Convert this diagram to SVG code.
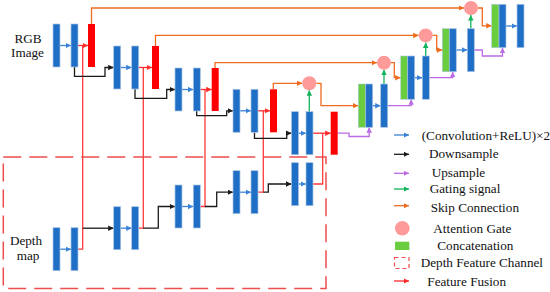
<svg xmlns="http://www.w3.org/2000/svg" width="550" height="292" viewBox="0 0 550 292">
<defs>
<style>
.b{fill:#1f6fc6;stroke:#a9c3e2;stroke-width:0.7}
.r{fill:#ff0000}
.g{fill:#6acd3f;stroke:#a9c3e2;stroke-width:0.5}
.ag{fill:#ff9a9a}
.c{fill:none;stroke-width:1.3}
.cb{stroke:#3a82d6;marker-end:url(#mb)}
.ck{stroke:#1a1a1a;marker-end:url(#mk)}
.cr{stroke:#ff2a2a;marker-end:url(#mr)}
.cf{stroke:#ff3b3b}
.co{stroke:#ef6c1f}
.coa{stroke:#ef6c1f;marker-end:url(#mo)}
.cg{stroke:#10b35a;marker-end:url(#mg)}
.cp{stroke:#bb6be3}
.cpa{stroke:#bb6be3;marker-end:url(#mp)}
text{font-family:'Liberation Serif','Times New Roman',serif;font-size:13.2px;fill:#111}
</style>
<marker id="mb" markerUnits="userSpaceOnUse" markerWidth="6" markerHeight="6" refX="5.5" refY="2.75" orient="auto"><path d="M0,0L5.5,2.75L0,5.5z" fill="#3a82d6"/></marker>
<marker id="mk" markerUnits="userSpaceOnUse" markerWidth="6" markerHeight="6" refX="5.5" refY="2.75" orient="auto"><path d="M0,0L5.5,2.75L0,5.5z" fill="#1a1a1a"/></marker>
<marker id="mr" markerUnits="userSpaceOnUse" markerWidth="6" markerHeight="6" refX="5.5" refY="2.75" orient="auto"><path d="M0,0L5.5,2.75L0,5.5z" fill="#ff2a2a"/></marker>
<marker id="mo" markerUnits="userSpaceOnUse" markerWidth="6" markerHeight="6" refX="5.5" refY="2.75" orient="auto"><path d="M0,0L5.5,2.75L0,5.5z" fill="#ef6c1f"/></marker>
<marker id="mg" markerUnits="userSpaceOnUse" markerWidth="6" markerHeight="6" refX="5.5" refY="2.75" orient="auto"><path d="M0,0L5.5,2.75L0,5.5z" fill="#10b35a"/></marker>
<marker id="mp" markerUnits="userSpaceOnUse" markerWidth="6" markerHeight="6" refX="5.5" refY="2.75" orient="auto"><path d="M0,0L5.5,2.75L0,5.5z" fill="#bb6be3"/></marker>
</defs>
<rect width="550" height="292" fill="#ffffff"/>

<g id="depth-channel">
<rect x="3.3" y="157" width="322.7" height="131.5" fill="none" stroke="#ee4d4d" stroke-width="1.5" stroke-dasharray="18,8"/>
</g>

<g id="labels" font-family="Liberation Serif, serif">
<text x="28" y="42.7" text-anchor="middle">RGB</text>
<text x="27.5" y="56.7" text-anchor="middle">Image</text>
<text x="26" y="245" text-anchor="middle">Depth</text>
<text x="28" y="259.5" text-anchor="middle">map</text>
</g>

<g id="connectors">
<line class="c cb" x1="60" y1="45.5" x2="71" y2="45.5"/>
<line class="c cb" x1="120.7" y1="67.5" x2="131.7" y2="67.5"/>
<line class="c cb" x1="182" y1="89.5" x2="193.3" y2="89.5"/>
<line class="c cb" x1="240" y1="110.8" x2="251" y2="110.8"/>
<line class="c cb" x1="298.5" y1="133.2" x2="306" y2="133.2"/>
<line class="c cb" x1="60" y1="249.2" x2="71" y2="249.2"/>
<line class="c cb" x1="120.7" y1="228.2" x2="131.7" y2="228.2"/>
<line class="c cb" x1="182" y1="206.5" x2="193.3" y2="206.5"/>
<line class="c cb" x1="240" y1="192.2" x2="251" y2="192.2"/>
<line class="c cb" x1="298.5" y1="184" x2="306" y2="184"/>
<polyline class="c cf" points="78,249.2 82.7,249.2 82.7,45.5"/>
<polyline class="c cf" points="138.7,228.2 143.3,228.2 143.3,67.5"/>
<polyline class="c cf" points="200.3,206.5 205,206.5 205,89.5"/>
<polyline class="c cf" points="258,192.2 263.3,192.2 263.3,110.8"/>
<polyline class="c cf" points="313,184 322.7,184 322.7,133.2"/>
<line class="c cr" x1="78" y1="45.5" x2="88" y2="45.5"/>
<line class="c cr" x1="138.7" y1="67.5" x2="152" y2="67.5"/>
<line class="c cr" x1="200.3" y1="89.5" x2="211.7" y2="89.5"/>
<line class="c cr" x1="258" y1="110.8" x2="270" y2="110.8"/>
<line class="c cr" x1="313" y1="133.2" x2="330.7" y2="133.2"/>
<polyline class="c ck" points="74.5,67 74.5,76.3 105,76.3 105,67.5 113.7,67.5"/>
<polyline class="c ck" points="135,89 135,98.3 166.7,98.3 166.7,89.5 175,89.5"/>
<polyline class="c ck" points="196.7,110.7 196.7,115.7 226.7,115.7 226.7,110.8 233,110.8"/>
<polyline class="c ck" points="254.5,132.3 254.5,138.3 286.7,138.3 286.7,133.2 291.5,133.2"/>
<polyline class="c ck" points="82.7,228.2 113.7,228.2"/>
<polyline class="c ck" points="143.3,228.2 158.3,228.2 158.3,206.5 175,206.5"/>
<polyline class="c ck" points="205,206.5 216.7,206.5 216.7,192.2 233,192.2"/>
<polyline class="c ck" points="263.3,192.2 268.3,192.2 268.3,184 291.5,184"/>
<polyline class="c coa" points="91.5,24 91.5,8 464,8"/>
<polyline class="c coa" points="155.5,46 155.5,35.4 418.7,35.4"/>
<polyline class="c coa" points="215,68 215,62.7 377,62.7"/>
<polyline class="c coa" points="273.3,89.3 273.3,83.3 302.3,83.3"/>
<polyline class="c coa" points="316.3,83.3 321,83.3 321,105.7 358.3,105.7"/>
<polyline class="c coa" points="391,62.7 394.3,62.7 394.3,77.7 400.7,77.7"/>
<polyline class="c coa" points="432.7,35.4 436.7,35.4 436.7,50 442.3,50"/>
<polyline class="c coa" points="478,8 482.3,8 482.3,25.8 491.7,25.8"/>
<line class="c cg" x1="309.3" y1="111.7" x2="309.3" y2="90.3"/>
<line class="c cg" x1="384" y1="84" x2="384" y2="69.7"/>
<line class="c cg" x1="425.7" y1="56" x2="425.7" y2="42.4"/>
<line class="c cg" x1="470.8" y1="28.7" x2="470.8" y2="15"/>
<line class="c cb" x1="372.7" y1="105.7" x2="380.7" y2="105.7"/>
<line class="c cb" x1="414.7" y1="77.7" x2="422.3" y2="77.7"/>
<line class="c cb" x1="456.3" y1="50" x2="467.3" y2="50"/>
<line class="c cb" x1="506" y1="26" x2="517" y2="26"/>
<polyline class="c cpa" points="337.7,133.2 349,133.2 349,136.5 369.2,136.5 369.2,127.3"/>
<polyline class="c cpa" points="387.7,105.7 411.2,105.7 411.2,99.3"/>
<polyline class="c cpa" points="429.3,77.7 452.7,77.7 452.7,71.7"/>
<polyline class="c cpa" points="474.3,50 482.3,50 482.3,56 502.5,56 502.5,47.7"/>
</g>

<g id="enc1"><rect class="b" x="53" y="24" width="7" height="43"/><rect class="b" x="71" y="24" width="7" height="43"/><rect class="r" x="88" y="24" width="7" height="43"/></g>
<g id="enc2"><rect class="b" x="113.7" y="46" width="7" height="43"/><rect class="b" x="131.7" y="46" width="7" height="43"/><rect class="r" x="152" y="46" width="7" height="43"/></g>
<g id="enc3"><rect class="b" x="175" y="68" width="7" height="43"/><rect class="b" x="193.3" y="68" width="7" height="43"/><rect class="r" x="211.7" y="68" width="7" height="43"/></g>
<g id="enc4"><rect class="b" x="233" y="89.3" width="7" height="43"/><rect class="b" x="251" y="89.3" width="7" height="43"/><rect class="r" x="270" y="89.3" width="7" height="43"/></g>
<g id="enc5"><rect class="b" x="291.5" y="111.7" width="7" height="43"/><rect class="b" x="306" y="111.7" width="7" height="43"/><rect class="r" x="330.7" y="111.7" width="7" height="43"/></g>

<g id="dep1"><rect class="b" x="53" y="227.7" width="7" height="43"/><rect class="b" x="71" y="227.7" width="7" height="43"/></g>
<g id="dep2"><rect class="b" x="113.7" y="206.7" width="7" height="43"/><rect class="b" x="131.7" y="206.7" width="7" height="43"/></g>
<g id="dep3"><rect class="b" x="175" y="185" width="7" height="43"/><rect class="b" x="193.3" y="185" width="7" height="43"/></g>
<g id="dep4"><rect class="b" x="233" y="170.7" width="7" height="43"/><rect class="b" x="251" y="170.7" width="7" height="43"/></g>
<g id="dep5"><rect class="b" x="291.5" y="162.7" width="7" height="43"/><rect class="b" x="306" y="162.7" width="7" height="43"/></g>

<g id="ag1"><circle class="ag" cx="309.3" cy="83.3" r="7"/></g>
<g id="ag2"><circle class="ag" cx="384" cy="62.7" r="7"/></g>
<g id="ag3"><circle class="ag" cx="425.7" cy="35.4" r="7"/></g>
<g id="ag4"><circle class="ag" cx="471" cy="8" r="7"/></g>

<g id="dec4"><rect class="g" x="358.3" y="84" width="7.4" height="43.3"/><rect class="b" x="365.7" y="84" width="7" height="43.3"/><rect class="b" x="380.7" y="84" width="7" height="43.3"/></g>
<g id="dec3"><rect class="g" x="400.7" y="56" width="7" height="43.3"/><rect class="b" x="407.7" y="56" width="7" height="43.3"/><rect class="b" x="422.3" y="56" width="7" height="43.3"/></g>
<g id="dec2"><rect class="g" x="442.3" y="28.7" width="7" height="43"/><rect class="b" x="449.3" y="28.7" width="7" height="43"/><rect class="b" x="467.3" y="28.7" width="7" height="43"/></g>
<g id="dec1"><rect class="g" x="491.7" y="4.3" width="7.3" height="43.4"/><rect class="b" x="499" y="4.3" width="7" height="43.4"/><rect class="b" x="517" y="4.3" width="7" height="43.4"/></g>

<g id="legend" font-family="Liberation Serif, serif">
<line class="c cb" x1="394" y1="135" x2="409" y2="135"/>
<text x="421.7" y="139.5">(Convolution+ReLU)×2</text>
<line class="c ck" x1="394" y1="154.3" x2="409" y2="154.3"/>
<text x="429" y="158.3">Downsample</text>
<line class="c cpa" x1="394" y1="173.3" x2="409" y2="173.3"/>
<text x="431.7" y="177.3">Upsample</text>
<line class="c cg" x1="394" y1="189" x2="409" y2="189"/>
<text x="429.7" y="193.3">Gating signal</text>
<line class="c coa" x1="394" y1="205.7" x2="409" y2="205.7"/>
<text x="430.7" y="211.8">Skip Connection</text>
<circle class="ag" cx="402.3" cy="228.3" r="7.3"/>
<text x="433.3" y="232.5">Attention Gate</text>
<rect x="395" y="241.7" width="14.3" height="8.3" fill="#6acd3f"/>
<text x="437.3" y="249.5">Concatenation</text>
<rect x="394.5" y="257.5" width="14.5" height="11" fill="none" stroke="#ee4d4d" stroke-width="1.2" stroke-dasharray="4,3"/>
<text x="420.7" y="267">Depth Feature Channel</text>
<line class="c cr" x1="394" y1="281" x2="409" y2="281"/>
<text x="427.3" y="286">Feature Fusion</text>
</g>
</svg>
